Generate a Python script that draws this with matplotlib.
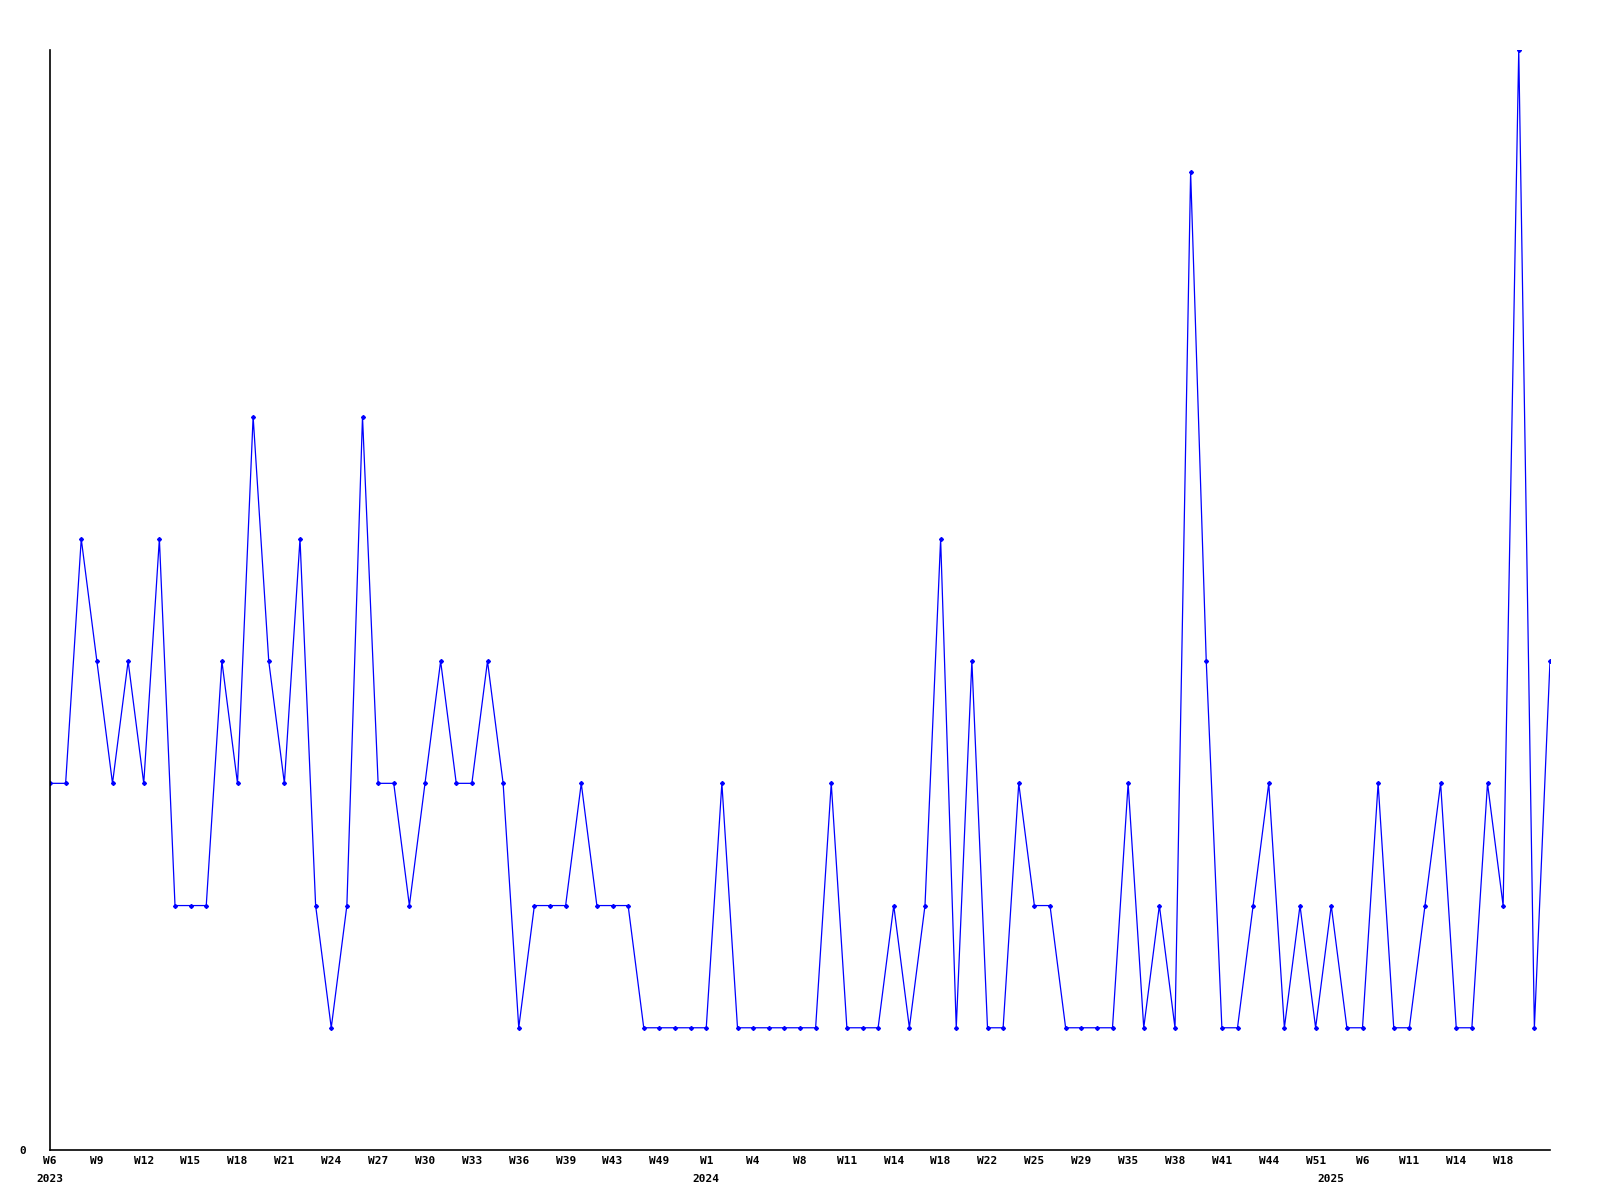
import matplotlib
matplotlib.use("Agg")
import matplotlib.pyplot as plt
from matplotlib.transforms import blended_transform_factory, offset_copy

# Weekly values (categorical x axis, one point per week with data)
values = [3, 3, 5, 4, 3, 4, 3, 5, 2, 2,
          2, 4, 3, 6, 4, 3, 5, 2, 1, 2,
          6, 3, 3, 2, 3, 4, 3, 3, 4, 3,
          1, 2, 2, 2, 3, 2, 2, 2, 1, 1,
          1, 1, 1, 3, 1, 1, 1, 1, 1, 1,
          3, 1, 1, 1, 2, 1, 2, 5, 1, 4,
          1, 1, 3, 2, 2, 1, 1, 1, 1, 3,
          1, 2, 1, 8, 4, 1, 1, 2, 3, 1,
          2, 1, 2, 1, 1, 3, 1, 1, 2, 3,
          1, 1, 3, 2, 9, 1, 4]

tick_labels = ["W6", "W9", "W12", "W15", "W18", "W21", "W24", "W27", "W30", "W33",
               "W36", "W39", "W43", "W49", "W1", "W4", "W8", "W11", "W14", "W18",
               "W22", "W25", "W29", "W35", "W38", "W41", "W44", "W51", "W6", "W11",
               "W14", "W18"]
tick_step = 3

year_labels = ["2023", "2024", "2025"]
year_index = [0, 42, 82]

font = dict(family="DejaVu Sans Mono", fontsize=8, fontweight="bold")

fig = plt.figure(figsize=(16, 12), dpi=100)
ax = fig.add_axes([50 / 1600, 50 / 1200, 1500 / 1600, 1100 / 1200])

x = list(range(len(values)))
ax.plot(x, values, color="#0000ff", linewidth=0.9, marker="D", markersize=2.0,
        markerfacecolor="#0000ff", markeredgecolor="#0000ff")

ax.set_xlim(0, len(values) - 1)
ax.set_ylim(0, 9)

for side in ("top", "right"):
    ax.spines[side].set_visible(False)
for side in ("left", "bottom"):
    ax.spines[side].set_color("black")
    ax.spines[side].set_linewidth(1.2)

ticks = [i * tick_step for i in range(len(tick_labels))]
ax.set_xticks(ticks)
ax.set_xticklabels(tick_labels, **font)
ax.set_yticks([0])
ax.set_yticklabels(["0"], **font)
ax.tick_params(axis="x", length=0, pad=4)
ax.tick_params(axis="y", length=0, pad=17)

trans = blended_transform_factory(ax.transData, ax.transAxes)
trans = offset_copy(trans, fig=fig, x=0, y=-17, units="points")
for lab, idx in zip(year_labels, year_index):
    ax.text(idx, 0, lab, transform=trans, ha="center", va="top", **font)

fig.savefig("out.png", dpi=100, facecolor="white")
